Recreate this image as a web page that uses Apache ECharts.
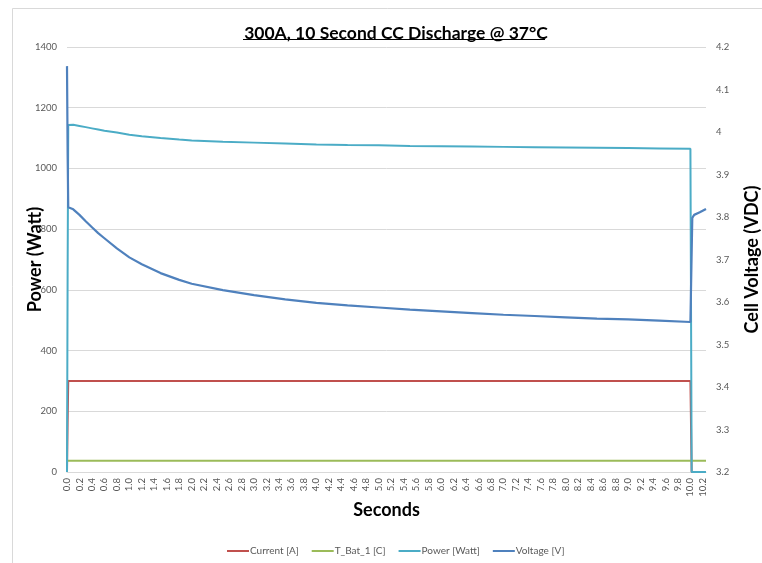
<!DOCTYPE html>
<html>
<head>
<meta charset="utf-8">
<script src="https://cdn.jsdelivr.net/npm/echarts@6/dist/echarts.min.js"></script>
<style>
html,body{margin:0;padding:0;background:#fff;}
#chart{width:762px;height:563px;}
</style>
</head>
<body>
<div id="chart"></div>
<script>
// ---- Data ----
const titleText = '300A, 10 Second CC Discharge @ 37\u00B0C';
const seriesNames = ['Current [A]', 'T_Bat_1 [C]', 'Power [Watt]', 'Voltage [V]'];

// time (s) and values
const currentTime = [0, 0.01, 0.02, 10.0, 10.01, 10.02, 10.25];
const currentVals = [0, 166, 300, 300, 300, 0, 0];

const tempTime = [0, 10.25];
const tempVals = [37, 37];

const powerTime = [0, 0.01, 0.02, 0.05, 0.1, 0.2, 0.3, 0.4, 0.5, 0.6, 0.8, 1.0, 1.2, 1.5, 1.8, 2.0, 2.5, 3.0, 3.5, 4.0, 4.5, 5.0, 5.5, 6.0, 6.5, 7.0, 7.5, 8.0, 8.5, 9.0, 9.5, 10.0, 10.01, 10.02, 10.25];
const powerVals = [0, 660, 1143, 1145, 1144, 1140, 1136, 1132, 1128, 1124, 1118, 1111, 1106, 1100, 1095, 1092, 1088, 1085, 1082, 1079, 1077, 1076, 1074, 1073, 1072, 1071, 1070, 1069, 1068, 1067, 1066, 1065, 1064, 0, 0];

const voltTime = [0, 0.01, 0.02, 0.05, 0.1, 0.2, 0.3, 0.4, 0.5, 0.6, 0.8, 1.0, 1.2, 1.5, 1.8, 2.0, 2.5, 3.0, 3.5, 4.0, 4.5, 5.0, 5.5, 6.0, 6.5, 7.0, 7.5, 8.0, 8.5, 9.0, 9.5, 10.0, 10.02, 10.03, 10.06, 10.15, 10.25];
const voltVals = [4.155, 3.95, 3.823, 3.822, 3.818, 3.805, 3.79, 3.776, 3.762, 3.75, 3.726, 3.705, 3.689, 3.668, 3.652, 3.643, 3.628, 3.616, 3.606, 3.598, 3.592, 3.587, 3.582, 3.578, 3.574, 3.570, 3.567, 3.564, 3.561, 3.559, 3.556, 3.553, 3.553, 3.798, 3.805, 3.811, 3.819];

// axis settings
const xMin = 0, xMax = 10.25, xStep = 0.2;
const powerMin = 0, powerMax = 1400, powerStep = 200;
const voltMin = 3.2, voltMax = 4.2, voltStep = 0.1;

const colors = ['#C0504D', '#9BBB59', '#4BACC6', '#4F81BD'];

function zip(t, v) { return t.map((x, i) => [x, v[i]]); }

const FONT = 'Lato, "Open Sans", "DejaVu Sans", sans-serif';
const chart = echarts.init(document.getElementById('chart'), null, {renderer: 'canvas'});

const option = {
  animation: false,
  backgroundColor: '#ffffff',
  color: colors,
  title: {
    text: titleText,
    left: 391, top: 19,
    textAlign: 'center',
    textStyle: {fontFamily: FONT, fontWeight: 'bold', fontSize: 17.5, color: '#000'}
  },
  graphic: [
    {type: 'rect', shape: {x: 12.5, y: 8.5, width: 760, height: 600}, style: {fill: 'none', stroke: '#D9D9D9', lineWidth: 1}, silent: true},
    {type: 'line', shape: {x1: 243, y1: 39.5, x2: 545, y2: 39.5}, style: {stroke: '#000', lineWidth: 1.2}, silent: true}
  ],
  grid: {left: 67, right: 56, top: 47, bottom: 91, containLabel: false, outerBoundsMode: 'none'},
  legend: {
    data: seriesNames,
    top: 541, left: 222,
    icon: 'rect', itemWidth: 22, itemHeight: 2, itemGap: 13,
    textStyle: {fontFamily: FONT, fontSize: 10, color: '#595959', padding: [0, 0, 0, -4]}
  },
  xAxis: {
    type: 'value', min: xMin, max: xMax, interval: xStep,
    name: 'Seconds', nameLocation: 'middle', nameGap: 29, nameMoveOverlap: false,
    nameTextStyle: {fontFamily: FONT, fontWeight: 'bold', fontSize: 18, color: '#000'},
    axisLine: {show: true, lineStyle: {color: '#D9D9D9', width: 1}},
    axisTick: {show: false},
    splitLine: {show: false},
    axisLabel: {rotate: 90, margin: 6, showMaxLabel: false, fontFamily: FONT, fontSize: 9.5, color: '#595959',
      formatter: v => (Math.round(v * 10) / 10).toFixed(1)}
  },
  yAxis: [
    {
      type: 'value', min: powerMin, max: powerMax, interval: powerStep,
      name: 'Power (Watt)', nameLocation: 'middle', nameGap: 23, nameMoveOverlap: false,
      nameTextStyle: {fontFamily: FONT, fontWeight: 'bold', fontSize: 18, color: '#000'},
      axisLine: {show: false}, axisTick: {show: false},
      splitLine: {show: true, lineStyle: {color: '#D9D9D9', width: 1}},
      axisLabel: {margin: 10, fontFamily: FONT, fontSize: 9.5, color: '#595959',
        formatter: v => String(Math.round(v))}
    },
    {
      type: 'value', min: voltMin, max: voltMax, interval: voltStep,
      name: 'Cell Voltage (VDC)', nameLocation: 'middle', nameGap: 37, nameMoveOverlap: false,
      nameTextStyle: {fontFamily: FONT, fontWeight: 'bold', fontSize: 18, color: '#000'},
      axisLine: {show: false}, axisTick: {show: false},
      splitLine: {show: false},
      axisLabel: {margin: 10, fontFamily: FONT, fontSize: 9.5, color: '#595959',
        formatter: v => String(Math.round(v * 10) / 10)}
    }
  ],
  series: [
    {name: seriesNames[0], type: 'line', yAxisIndex: 0, showSymbol: false, symbol: 'none', data: zip(currentTime, currentVals), lineStyle: {width: 2, color: colors[0]}},
    {name: seriesNames[1], type: 'line', yAxisIndex: 0, showSymbol: false, symbol: 'none', data: zip(tempTime, tempVals), lineStyle: {width: 2, color: colors[1]}},
    {name: seriesNames[2], type: 'line', yAxisIndex: 0, showSymbol: false, symbol: 'none', data: zip(powerTime, powerVals), lineStyle: {width: 2, color: colors[2]}},
    {name: seriesNames[3], type: 'line', yAxisIndex: 1, showSymbol: false, symbol: 'none', data: zip(voltTime, voltVals), lineStyle: {width: 2.2, color: colors[3]}}
  ]
};
chart.setOption(option);
</script>
</body>
</html>
